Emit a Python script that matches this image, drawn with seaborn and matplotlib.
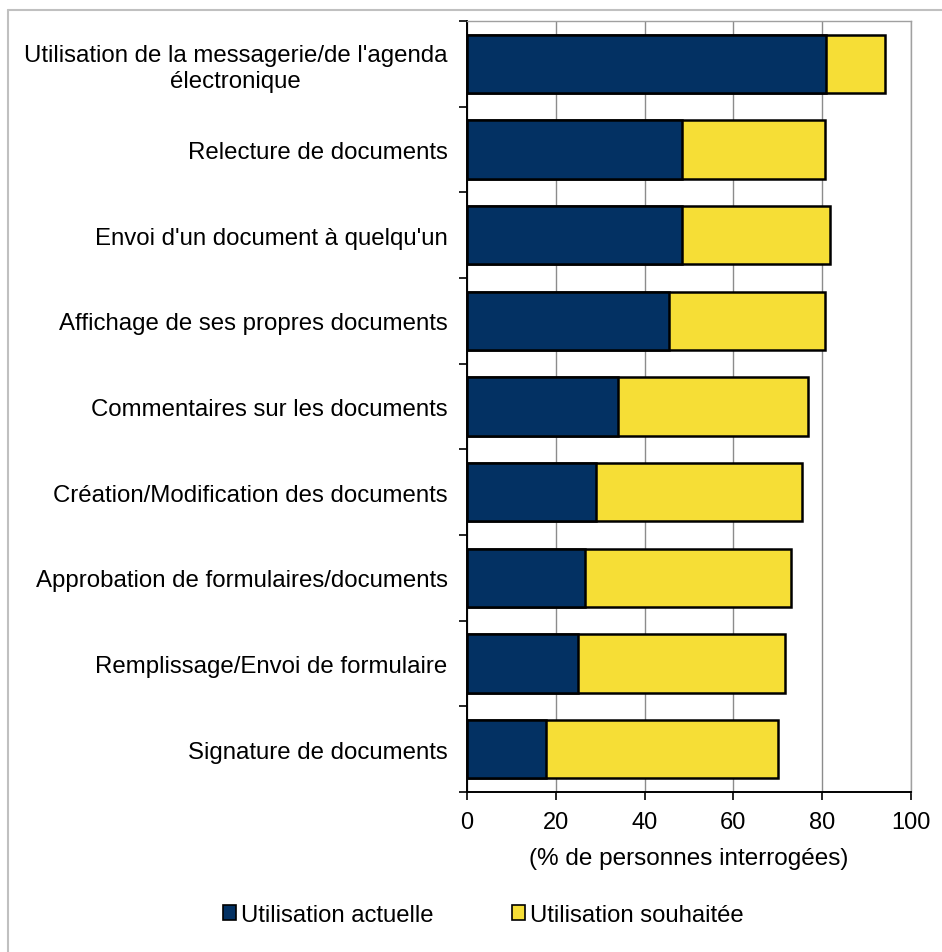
import matplotlib
matplotlib.use("Agg")
import matplotlib.pyplot as plt
import seaborn as sns
import pandas as pd
from matplotlib.patches import Patch
from matplotlib.lines import Line2D

categories = [
    "Utilisation de la messagerie/de l'agenda\nélectronique",
    "Relecture de documents",
    "Envoi d'un document à quelqu'un",
    "Affichage de ses propres documents",
    "Commentaires sur les documents",
    "Création/Modification des documents",
    "Approbation de formulaires/documents",
    "Remplissage/Envoi de formulaire",
    "Signature de documents",
]
actuelle = [80.9, 48.5, 48.5, 45.6, 34.1, 29.1, 26.6, 25.1, 17.7]
souhaitee = [13.3, 32.1, 33.3, 35.0, 42.6, 46.4, 46.3, 46.5, 52.4]
series_names = ["Utilisation actuelle", "Utilisation souhaitée"]
xticks = [0, 20, 40, 60, 80, 100]
xlabel = "(% de personnes interrogées)"

dark = "#033163"
yellow = "#f6de36"

sns.set_theme(style="white")
plt.rcParams['font.family'] = ['Liberation Sans', 'DejaVu Sans']
plt.rcParams['text.color'] = 'black'
plt.rcParams['axes.labelcolor'] = 'black'
plt.rcParams['xtick.color'] = 'black'
plt.rcParams['ytick.color'] = 'black'

df = pd.DataFrame({
    "cat": categories,
    "actuelle": actuelle,
    "total": [a + s for a, s in zip(actuelle, souhaitee)],
})

fig = plt.figure(figsize=(9.42, 9.53), dpi=100)
ax = fig.add_axes([467 / 942, 1 - 793 / 953, (911 - 467) / 942, (793 - 22) / 953])

sns.barplot(data=df, y="cat", x="total", color=yellow, orient="h", ax=ax,
            width=0.68, edgecolor="black", linewidth=1.8, saturation=1, zorder=3)
sns.barplot(data=df, y="cat", x="actuelle", color=dark, orient="h", ax=ax,
            width=0.68, edgecolor="black", linewidth=1.8, saturation=1, zorder=4)

n = len(categories)
ax.set_xlim(0, 100)
ax.set_ylim(n - 0.5, -0.5)
ax.set_xticks(xticks)
ax.set_xticklabels([str(t) for t in xticks])
ax.set_ylabel("")
ax.set_xlabel(xlabel, fontsize=17.5, labelpad=10)

ax.set_yticks(range(n))
ax.set_yticklabels(categories, fontsize=17.3, ha="right", multialignment="center")
ax.set_yticks([i - 0.5 for i in range(n + 1)], minor=True)
ax.tick_params(axis="y", which="major", length=0, pad=14)
ax.tick_params(axis="y", which="minor", length=6, width=1.2, color="black", direction="out", left=True)
ax.tick_params(axis="x", which="major", length=6, width=1.2, color="black", direction="out",
               bottom=True, labelsize=17, pad=8)

ax.xaxis.grid(True, color="#8c8c8c", linewidth=1.0, zorder=0)
ax.yaxis.grid(False)
ax.set_axisbelow(True)
ax.spines["left"].set_color("black")
ax.spines["left"].set_linewidth(1.4)
ax.spines["bottom"].set_color("black")
ax.spines["bottom"].set_linewidth(1.4)
ax.spines["top"].set_color("#a0a0a0")
ax.spines["top"].set_linewidth(1.0)
ax.spines["right"].set_color("#a0a0a0")
ax.spines["right"].set_linewidth(1.0)

handles = [Patch(facecolor=dark, edgecolor="black", linewidth=1.2),
           Patch(facecolor=yellow, edgecolor="black", linewidth=1.2)]
fig.legend(handles, series_names, loc="center", bbox_to_anchor=(483 / 942, 1 - 916 / 953),
           ncol=2, frameon=False, fontsize=17.2, handlelength=0.55, handleheight=0.55,
           handletextpad=0.2, columnspacing=3.3)

fig.add_artist(Line2D([8 / 942, 8 / 942], [0, 1 - 11 / 953], transform=fig.transFigure,
                      color="#c0c0c0", linewidth=1.5))
fig.add_artist(Line2D([8 / 942, 1], [1 - 11 / 953, 1 - 11 / 953], transform=fig.transFigure,
                      color="#c0c0c0", linewidth=1.5))

fig.savefig("out.png", dpi=100, facecolor="white")
